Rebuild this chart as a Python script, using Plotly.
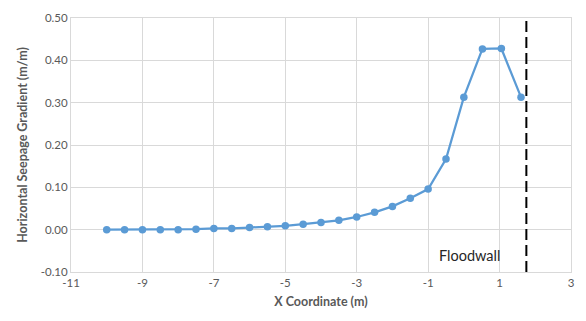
import plotly.graph_objects as go

# Horizontal seepage gradient along the section
x_coord = [-10, -9.5, -9, -8.5, -8, -7.5, -7, -6.5, -6, -5.5, -5, -4.5, -4,
           -3.5, -3, -2.5, -2, -1.5, -1, -0.5, 0, 0.52, 1.05, 1.6]
gradient = [0.000, 0.000, 0.000, 0.000, 0.000, 0.001, 0.003, 0.003, 0.005,
            0.007, 0.009, 0.013, 0.017, 0.022, 0.030, 0.041, 0.055, 0.074,
            0.096, 0.167, 0.313, 0.427, 0.428, 0.313]

floodwall_x = 1.75
x_ticks = [-11, -9, -7, -5, -3, -1, 1, 3]
y_ticks = [-0.10, 0.00, 0.10, 0.20, 0.30, 0.40, 0.50]

FONT = "Lato, 'Open Sans', sans-serif"
GREY = "#595959"

fig = go.Figure()
fig.add_trace(go.Scatter(
    x=x_coord, y=gradient, mode="lines+markers",
    line=dict(color="#5B9BD5", width=2.25),
    marker=dict(color="#5B9BD5", size=7.5),
    showlegend=False,
))

# Floodwall location
fig.add_shape(type="line", x0=floodwall_x, x1=floodwall_x, y0=-0.10, y1=0.50,
              xref="x", yref="y", line=dict(color="black", width=2, dash="11px,5px"))
fig.add_annotation(x=0.17, y=-0.062, text="Floodwall", showarrow=False,
                   font=dict(family=FONT, size=14.5, color="#262626"))

fig.update_layout(
    width=586, height=321,
    margin=dict(l=71, r=11, t=17, b=49),
    paper_bgcolor="white", plot_bgcolor="white",
    font=dict(family=FONT, color=GREY, size=11.5),
)
fig.update_xaxes(
    range=[-11, 3], tickvals=x_ticks, ticktext=[str(v) for v in x_ticks],
    showgrid=True, gridcolor="#d9d9d9", gridwidth=1,
    showline=True, linecolor="#d9d9d9", mirror=True, zeroline=False,
    ticks="", tickfont=dict(size=11.5, color=GREY),
    title=dict(text="<b>X Coordinate (m)</b>", font=dict(size=12.5, color=GREY), standoff=9),
)
fig.update_yaxes(
    range=[-0.10, 0.50], tickvals=y_ticks, ticktext=[f"{v:.2f}" for v in y_ticks],
    showgrid=True, gridcolor="#d9d9d9", gridwidth=1,
    showline=True, linecolor="#d9d9d9", mirror=True, zeroline=False,
    ticks="", tickfont=dict(size=11.5, color=GREY),
    title=dict(text="<b>Horizontal Seepage Gradient (m/m)</b>", font=dict(size=12.5, color=GREY), standoff=10),
)

fig.write_html("out.html")
